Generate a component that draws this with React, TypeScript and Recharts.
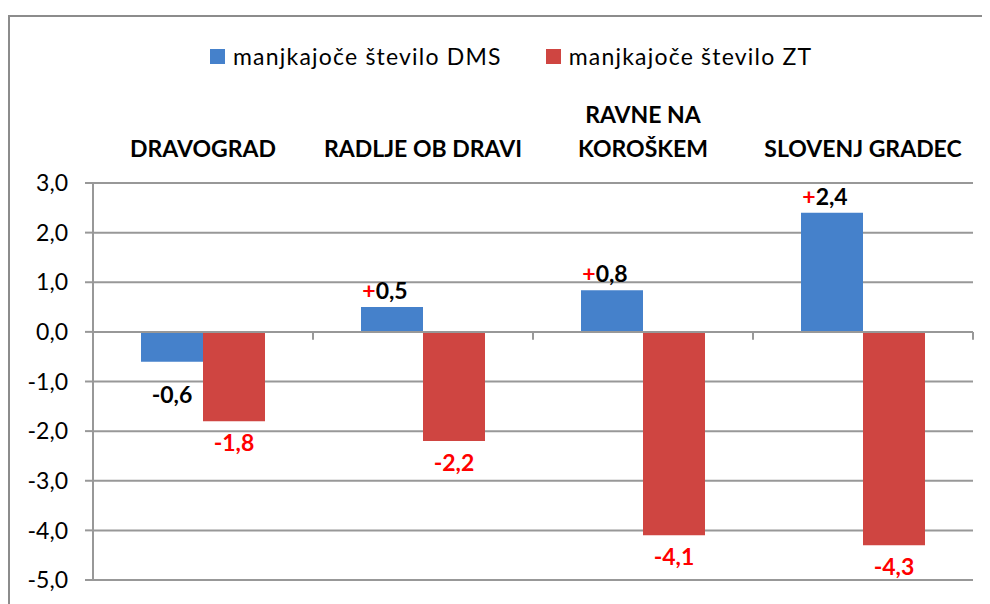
import React from 'react';
import { BarChart, Bar, XAxis, YAxis, CartesianGrid, ReferenceLine, LabelList } from 'recharts';

const municipalities = ['DRAVOGRAD', 'RADLJE OB DRAVI', 'RAVNE NA KOROŠKEM', 'SLOVENJ GRADEC'];
const missingDms = [-0.6, 0.5, 0.84, 2.4];
const missingZt = [-1.8, -2.2, -4.1, -4.3];
const yTicks = [-5, -4, -3, -2, -1, 0, 1, 2, 3];
const seriesNames = ['manjkajoče število DMS', 'manjkajoče število ZT'];

const BLUE = '#4581CB';
const RED = '#CF4541';
const GRID = '#989898';
const FONT = 'Lato, "Open Sans", sans-serif';

const data = municipalities.map((name, i) => ({
  name,
  dms: missingDms[i],
  zt: missingZt[i],
}));

const fmt = (v: number) => v.toFixed(1).replace('.', ',');

// category names sit above the plot, wrapped like in the original
const CategoryTick = (props: any) => {
  const { x, y, payload } = props;
  const label: string = payload.value;
  const lines = label === 'RAVNE NA KOROŠKEM' ? ['RAVNE NA', 'KOROŠKEM'] : [label];
  return (
    <g>
      {lines.map((line, i) => (
        <text
          key={line}
          x={x}
          y={y - 26 - (lines.length - 1 - i) * 34}
          textAnchor="middle"
          fontFamily={FONT}
          fontWeight={700}
          fontSize={23}
          fill="#000"
        >
          {line}
        </text>
      ))}
    </g>
  );
};

const DmsLabel = (props: any) => {
  const { x, y, width, height, value } = props;
  const top = Math.min(y, y + height);
  const bottom = Math.max(y, y + height);
  const cx = x + width / 2;
  if (value > 0) {
    return (
      <text x={cx - 7} y={top - 8} textAnchor="middle" fontFamily={FONT} fontWeight={700} fontSize={23}>
        <tspan fill="#FF0000">+</tspan>
        <tspan fill="#000">{fmt(value)}</tspan>
      </text>
    );
  }
  return (
    <text x={cx} y={bottom + 41} textAnchor="middle" fontFamily={FONT} fontWeight={700} fontSize={23} fill="#000">
      {fmt(value)}
    </text>
  );
};

const ZtLabel = (props: any) => {
  const { x, y, width, height, value } = props;
  const bottom = Math.max(y, y + height);
  return (
    <text x={x + width / 2} y={bottom + 30} textAnchor="middle" fontFamily={FONT} fontWeight={700} fontSize={23} fill="#FF0000">
      {fmt(value)}
    </text>
  );
};

const LegendBox = () => (
  <div
    style={{
      position: 'absolute',
      left: 202,
      top: 34,
      display: 'flex',
      alignItems: 'center',
      fontFamily: FONT,
      fontSize: 23,
      letterSpacing: 1.2,
      color: '#000',
    }}
  >
    {seriesNames.map((n, i) => (
      <div key={n} style={{ display: 'flex', alignItems: 'center', marginLeft: i === 0 ? 0 : 44 }}>
        <span style={{ width: 15, height: 15, background: i === 0 ? BLUE : RED, marginRight: 8 }} />
        <span>{n}</span>
      </div>
    ))}
  </div>
);

export default function App() {
  return (
    <div style={{ position: 'relative', width: 982, height: 596, overflow: 'hidden', background: '#fff' }}>
      <div
        style={{
          position: 'absolute',
          left: 0,
          top: 7,
          width: 1020,
          height: 700,
          border: '2px solid #8c8c8c',
          boxSizing: 'border-box',
        }}
      />
      <LegendBox />
      <div style={{ position: 'absolute', left: 0, top: 0 }}>
        <BarChart
          width={982}
          height={596}
          data={data}
          margin={{ top: 95, right: 17, bottom: 24, left: 0 }}
          barGap={0}
          barSize={62}
        >
          <CartesianGrid horizontal vertical={false} stroke={GRID} strokeWidth={2} />
          <XAxis xAxisId="main" dataKey="name" hide />
          <XAxis
            xAxisId="top"
            dataKey="name"
            orientation="top"
            height={80}
            axisLine={false}
            tickLine={false}
            tickSize={0}
            tickMargin={0}
            interval={0}
            tick={<CategoryTick />}
          />
          <YAxis
            domain={[-5, 3]}
            ticks={yTicks}
            width={85}
            tickSize={8}
            tickMargin={17}
            axisLine={{ stroke: GRID, strokeWidth: 2 }}
            tickLine={{ stroke: GRID, strokeWidth: 2 }}
            tickFormatter={fmt}
            tick={{ fill: '#000', fontSize: 23, fontFamily: FONT }}
            interval={0}
          />
          <ReferenceLine xAxisId="main" y={0} stroke={GRID} strokeWidth={2} />
          {municipalities.map((m) => (
            <ReferenceLine
              key={m}
              xAxisId="main"
              position="start"
              segment={[{ x: m, y: 0 }, { x: m, y: -0.16 }]}
              stroke={GRID}
              strokeWidth={2}
            />
          ))}
          <ReferenceLine
            xAxisId="main"
            position="end"
            segment={[
              { x: municipalities[municipalities.length - 1], y: 0 },
              { x: municipalities[municipalities.length - 1], y: -0.16 },
            ]}
            stroke={GRID}
            strokeWidth={2}
          />
          <Bar xAxisId="main" dataKey="dms" name={seriesNames[0]} fill={BLUE} isAnimationActive={false}>
            <LabelList dataKey="dms" content={<DmsLabel />} />
          </Bar>
          <Bar xAxisId="main" dataKey="zt" name={seriesNames[1]} fill={RED} isAnimationActive={false}>
            <LabelList dataKey="zt" content={<ZtLabel />} />
          </Bar>
        </BarChart>
      </div>
    </div>
  );
}
